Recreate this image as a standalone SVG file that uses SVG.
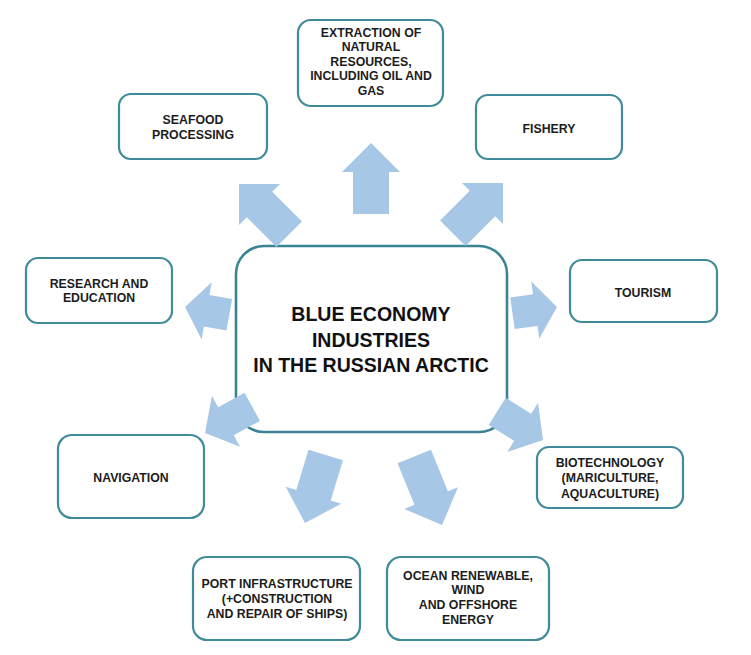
<svg xmlns="http://www.w3.org/2000/svg" width="751" height="655" viewBox="0 0 751 655">
<style>
.box{fill:#ffffff;stroke:#3f8b9a;stroke-width:2.2}
.hub{fill:#ffffff;stroke:#3a8494;stroke-width:2.6}
.t{font-family:"Liberation Sans",Arial,sans-serif;font-weight:bold;font-size:12.3px;fill:#1c1c1c;text-anchor:middle}
.ht{font-family:"Liberation Sans",Arial,sans-serif;font-weight:bold;font-size:19.5px;fill:#111111;text-anchor:middle}
.arr{fill:#a7c7e7}
</style>
<defs>
<polygon id="a70" points="0,0 29,29 18,29 18,71 -18,71 -18,29 -29,29"/>
<polygon id="a74" points="0,0 29,29 18,29 18,74 -18,74 -18,29 -29,29"/>
<polygon id="s45" points="0,0 29,22 16,22 16,45 -16,45 -16,22 -29,22"/>
<polygon id="s52" points="0,0 29,24 16,24 16,54 -16,54 -16,24 -29,24"/>
</defs>
<rect width="751" height="655" fill="#ffffff"/>
<g id="hub">
<rect class="hub" x="236" y="246" width="271" height="186" rx="28"/>
<text class="ht" x="371" y="321">BLUE ECONOMY</text>
<text class="ht" x="371" y="347">INDUSTRIES</text>
<text class="ht" x="371" y="372">IN THE RUSSIAN ARCTIC</text>
</g>
<g id="connectors" class="arr">
<use href="#a70" transform="translate(371,143)"/>
<use href="#a70" transform="translate(503,183) rotate(45)"/>
<use href="#a70" transform="translate(239,184) rotate(-45)"/>
<use href="#s45" transform="translate(185,307) rotate(-80)"/>
<use href="#s45" transform="translate(557,307) rotate(82)"/>
<use href="#s52" transform="translate(205,433) rotate(-119)"/>
<use href="#s52" transform="translate(543,440) rotate(122)"/>
<use href="#a70" transform="translate(305,523) rotate(-163)"/>
<use href="#a74" transform="translate(442,525) rotate(158)"/>
</g>
<g id="extraction">
<rect class="box" x="298" y="20" width="145" height="86" rx="13"/>
<text class="t" x="371" y="36.5">EXTRACTION OF</text>
<text class="t" x="371" y="51">NATURAL</text>
<text class="t" x="371" y="65.5">RESOURCES,</text>
<text class="t" x="371" y="80">INCLUDING OIL AND</text>
<text class="t" x="371" y="94.5">GAS</text>
</g>
<g id="seafood">
<rect class="box" x="119" y="94" width="148" height="65" rx="12"/>
<text class="t" x="193" y="123.5">SEAFOOD</text>
<text class="t" x="193" y="138.5">PROCESSING</text>
</g>
<g id="fishery">
<rect class="box" x="476" y="95" width="146" height="64" rx="12"/>
<text class="t" x="549" y="132.5">FISHERY</text>
</g>
<g id="research">
<rect class="box" x="26" y="258" width="146" height="65" rx="12"/>
<text class="t" x="99" y="287.5">RESEARCH AND</text>
<text class="t" x="99" y="301.5">EDUCATION</text>
</g>
<g id="tourism">
<rect class="box" x="570" y="260" width="147" height="62" rx="12"/>
<text class="t" x="643" y="296.5">TOURISM</text>
</g>
<g id="navigation">
<rect class="box" x="58" y="435" width="146" height="83" rx="14"/>
<text class="t" x="131" y="481.5">NAVIGATION</text>
</g>
<g id="biotechnology">
<rect class="box" x="537" y="447" width="146" height="61" rx="12"/>
<text class="t" x="610" y="466.5">BIOTECHNOLOGY</text>
<text class="t" x="610" y="482">(MARICULTURE,</text>
<text class="t" x="610" y="497.5">AQUACULTURE)</text>
</g>
<g id="port">
<rect class="box" x="193" y="557" width="167" height="83" rx="14"/>
<text class="t" x="277" y="587.5">PORT INFRASTRUCTURE</text>
<text class="t" x="277" y="602.5">(+CONSTRUCTION</text>
<text class="t" x="277" y="617.5">AND REPAIR OF SHIPS)</text>
</g>
<g id="ocean">
<rect class="box" x="387" y="557" width="162" height="83" rx="14"/>
<text class="t" x="468" y="579.5">OCEAN RENEWABLE,</text>
<text class="t" x="468" y="594">WIND</text>
<text class="t" x="468" y="608.5">AND OFFSHORE</text>
<text class="t" x="468" y="623.5">ENERGY</text>
</g>
</svg>
